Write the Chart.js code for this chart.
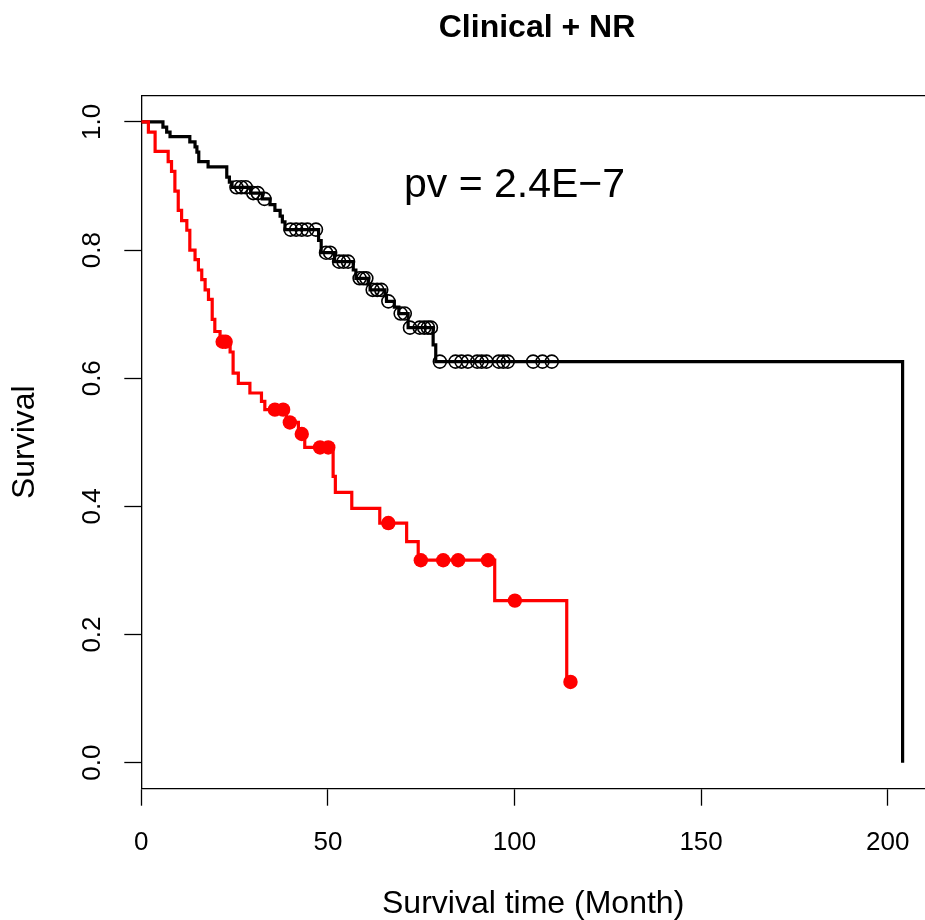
<!DOCTYPE html>
<html>
<head>
<meta charset="utf-8">
<title>Clinical + NR</title>
<script src="https://cdn.jsdelivr.net/npm/chart.js@4.4.0/dist/chart.umd.min.js"></script>
<style>
  html, body { margin: 0; padding: 0; background: #fff; }
</style>
</head>
<body>
<canvas id="km-chart" width="925" height="920"></canvas>
<script>
// Kaplan-Meier curves: time of each drop (months) and survival after it
var lowTime = [0, 5.8, 6.8, 7.7, 13.0, 14.4, 14.9, 15.4, 17.9, 22.9, 23.6, 24.3, 29.3, 32.4, 34.5, 35.8, 37.2, 37.8, 38.5,
  47.5, 48.2, 51.8, 56.8, 57.5, 60.8, 61.3, 65.3, 65.7, 67.8, 69.0, 71.5, 78.2, 78.9, 204];
var lowSurv = [1, 0.992, 0.984, 0.977, 0.969, 0.961, 0.953, 0.938, 0.930, 0.914, 0.906, 0.898, 0.889, 0.880, 0.871, 0.862, 0.853, 0.844, 0.832,
  0.815, 0.796, 0.782, 0.769, 0.756, 0.747, 0.738, 0.729, 0.720, 0.711, 0.701, 0.679, 0.652, 0.626, 0];
var lowCensor = [25.5, 26.8, 28.0, 30.0, 31.2, 33.0, 40.0, 41.5, 43.0, 44.5, 46.8, 49.5, 50.6, 53.0, 54.2, 55.4,
  58.5, 59.5, 60.3, 62.0, 63.2, 64.3, 66.2, 69.5, 70.6, 72.0, 74.6, 75.8, 76.8, 77.6,
  80.0, 84.2, 85.8, 87.5, 90.0, 91.2, 92.5, 95.8, 97.0, 98.2, 105.0, 107.5, 110.0];

var highTime = [0, 1.9, 3.7, 7.2, 8.1, 9.0, 9.9, 10.8, 12.2, 13.0, 14.4, 15.3, 16.2, 17.1, 18.0, 19.0, 19.7, 21.1,
  23.8, 24.6, 26.0, 29.1, 32.2, 33.1, 38.9, 42.1, 43.8, 51.4, 52.0, 56.4, 63.9, 71.1, 74.2, 94.7, 114.0, 115.0];
var highSurv = [1, 0.984, 0.954, 0.938, 0.923, 0.892, 0.862, 0.846, 0.831, 0.800, 0.785, 0.769, 0.754, 0.738, 0.723, 0.692, 0.673, 0.657,
  0.641, 0.608, 0.592, 0.577, 0.564, 0.551, 0.531, 0.513, 0.492, 0.447, 0.422, 0.397, 0.374, 0.345, 0.316, 0.253, 0.126, 0.126];
var highCensor = [21.8, 22.6, 35.8, 38.0, 39.8, 43.0, 47.9, 50.1, 66.2, 74.9, 80.9, 84.9, 92.9, 100.1, 115.0];

var xTicks = [0, 50, 100, 150, 200];
var yTicks = [0, 0.2, 0.4, 0.6, 0.8, 1.0];

var mainTitle = "Clinical + NR";
var pvLabel = "pv = 2.4E\u22127";

Chart.defaults.font.family = "'Liberation Sans', Arial, sans-serif";
Chart.defaults.color = "#000";

// survival value of a step curve at time t
function survAt(times, surv, t) {
  var s = 1;
  for (var i = 0; i < times.length; i++) {
    if (times[i] <= t) s = surv[i];
  }
  return s;
}

function steps(times, surv) {
  return times.map(function (t, i) { return { x: t, y: surv[i] }; });
}

function censored(marks, times, surv) {
  return marks.map(function (t) { return { x: t, y: survAt(times, surv, t) }; });
}

// box top, title and p-value
var textPlugin = {
  id: "textPlugin",
  afterDraw: function (chart) {
    var ctx = chart.ctx;
    var area = chart.chartArea;
    var xs = chart.scales.x;
    var ys = chart.scales.y;
    ctx.save();
    ctx.strokeStyle = "#000";
    ctx.lineWidth = 1.3;
    ctx.beginPath();
    ctx.moveTo(area.left, area.top);
    ctx.lineTo(area.right, area.top);
    ctx.stroke();

    ctx.fillStyle = "#000";
    ctx.textAlign = "center";
    ctx.textBaseline = "middle";
    ctx.font = "bold 32px 'Liberation Sans', Arial, sans-serif";
    ctx.fillText(mainTitle, 537, 28.5);
    ctx.font = "41px 'Liberation Sans', Arial, sans-serif";
    ctx.fillText(pvLabel, xs.getPixelForValue(100), ys.getPixelForValue(0.9));
    ctx.restore();
  }
};

var ctx = document.getElementById("km-chart").getContext("2d");
var kmChart = new Chart(ctx, {
  type: "line",
  data: {
    datasets: [
      {
        label: "low risk",
        data: steps(lowTime, lowSurv),
        borderColor: "#000000",
        borderWidth: 3.2,
        stepped: true,
        pointRadius: 0,
        fill: false,
        order: 3
      },
      {
        label: "high risk",
        data: steps(highTime, highSurv),
        borderColor: "#ff0000",
        borderWidth: 3.2,
        stepped: true,
        pointRadius: 0,
        fill: false,
        order: 2
      },
      {
        label: "low risk censored",
        data: censored(lowCensor, lowTime, lowSurv),
        showLine: false,
        pointStyle: "circle",
        pointRadius: 6.5,
        pointBorderWidth: 1.6,
        pointBorderColor: "#000000",
        pointBackgroundColor: "rgba(0,0,0,0)",
        borderColor: "#000000",
        order: 1
      },
      {
        label: "high risk censored",
        data: censored(highCensor, highTime, highSurv),
        showLine: false,
        pointStyle: "circle",
        pointRadius: 7.2,
        pointBorderWidth: 0,
        pointBorderColor: "#ff0000",
        pointBackgroundColor: "#ff0000",
        borderColor: "#ff0000",
        order: 0
      }
    ]
  },
  options: {
    responsive: false,
    animation: false,
    events: [],
    layout: {
      autoPadding: false,
      padding: { top: 95.7, right: 0, bottom: 0, left: 0 }
    },
    plugins: {
      legend: { display: false },
      tooltip: { enabled: false }
    },
    scales: {
      x: {
        type: "linear",
        min: 0,
        max: 210,
        afterBuildTicks: function (scale) {
          scale.ticks = xTicks.map(function (v) { return { value: v }; });
        },
        afterFit: function (scale) {
          scale.height = 131.3;
          // plot runs to the right edge of the canvas
          scale.paddingLeft = 0;
          scale.paddingRight = 0;
        },
        grid: { drawOnChartArea: false, drawTicks: true, tickLength: 17, tickColor: "#000", tickWidth: 1.3 },
        border: { display: true, color: "#000", width: 1.3 },
        ticks: {
          font: { size: 26 },
          padding: 22,
          maxRotation: 0,
          autoSkip: false,
          callback: function (v) { return String(v); }
        },
        title: {
          display: true,
          text: "Survival time (Month)",
          font: { size: 32, lineHeight: 1 },
          padding: 0
        }
      },
      y: {
        type: "linear",
        min: -0.0406,
        max: 1.041,
        afterBuildTicks: function (scale) {
          scale.ticks = yTicks.map(function (v) { return { value: v }; });
        },
        afterFit: function (scale) { scale.width = 141.3; },
        grid: { drawOnChartArea: false, drawTicks: true, tickLength: 17, tickColor: "#000", tickWidth: 1.3 },
        border: { display: true, color: "#000", width: 1.3 },
        ticks: {
          font: { size: 26 },
          padding: 13,
          minRotation: 90,
          maxRotation: 90,
          crossAlign: "center",
          autoSkip: false,
          callback: function (v) { return v.toFixed(1); }
        },
        title: {
          display: true,
          text: "Survival",
          font: { size: 32, lineHeight: 1 },
          padding: { top: 9, bottom: 0 }
        }
      }
    }
  },
  plugins: [textPlugin]
});
</script>
</body>
</html>
